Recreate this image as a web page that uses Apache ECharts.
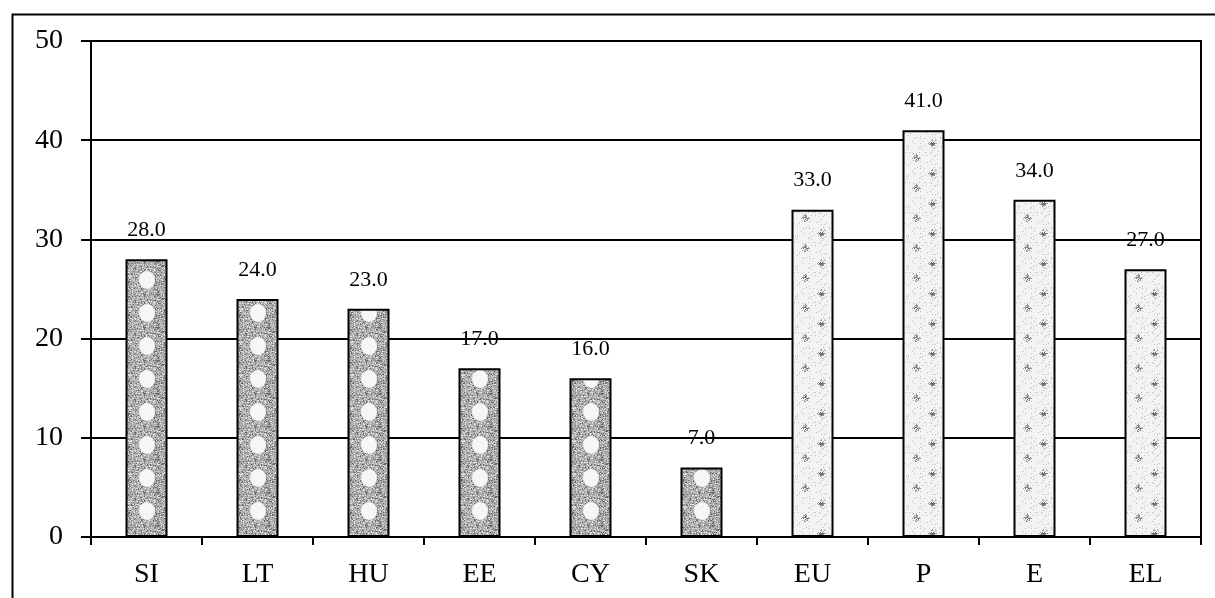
<!DOCTYPE html>
<html>
<head>
<meta charset="utf-8">
<script src="https://cdn.jsdelivr.net/npm/echarts@6/dist/echarts.min.js"></script>
<style>
html,body{margin:0;padding:0;background:#fff;}
#chart{width:1215px;height:598px;}
</style>
</head>
<body>
<div id="chart"></div>
<script>
const categories = ['SI','LT','HU','EE','CY','SK','EU','P','E','EL'];
const values = [28.0, 24.0, 23.0, 17.0, 16.0, 7.0, 33.0, 41.0, 34.0, 27.0];
const yTicks = [0, 10, 20, 30, 40, 50];

function hash(x, y){
  let h = (x * 374761393 + y * 668265263) | 0;
  h = (h ^ (h >>> 13)) * 1274126177 | 0;
  h = h ^ (h >>> 16);
  return (h >>> 0) % 1000;
}
function makeDarkTile(){
  const c = document.createElement('canvas');
  c.width = 42; c.height = 33;
  const g = c.getContext('2d');
  g.fillStyle = '#ababab';
  g.fillRect(0,0,c.width,c.height);
  for(let y=0;y<c.height;y++){
    for(let x=0;x<c.width;x++){
      const h = hash(x, y);
      if(h < 180){ g.fillStyle='#6c6c6c'; g.fillRect(x,y,1,1); }
      else if(h > 800){ g.fillStyle='#dedede'; g.fillRect(x,y,1,1); }
    }
  }
  g.fillStyle = '#f6f6f6';
  g.beginPath(); g.ellipse(21, 16, 8, 9, 0, 0, Math.PI*2); g.fill();
  return c;
}
function makeLightTile(){
  const c = document.createElement('canvas');
  c.width = 42; c.height = 30;
  const g = c.getContext('2d');
  g.fillStyle = '#f3f3f3';
  g.fillRect(0,0,c.width,c.height);
  for(let y=0;y<c.height;y++){
    for(let x=0;x<c.width;x++){
      const h = hash(x + 50, y + 50);
      if(h < 70){ g.fillStyle='#bdbdbd'; g.fillRect(x,y,1,1); }
    }
  }
  const clusters = [[13,8],[29,23]];
  clusters.forEach(([cx,cy], k)=>{
    for(let dy=-4;dy<=4;dy++) for(let dx=-4;dx<=4;dx++){
      const d = Math.abs(dx)+Math.abs(dy);
      if(d<=4 && hash(cx+dx+k*7, cy+dy) < 600){
        g.fillStyle = d <= 2 ? '#707070' : '#9a9a9a';
        g.fillRect(cx+dx,cy+dy,1,1);
      }
    }
  });
  return c;
}
const darkTile = makeDarkTile();
const lightTile = makeLightTile();

const serif = 'Liberation Serif';
const chart = echarts.init(document.getElementById('chart'), null, {renderer:'canvas'});

function buildData(offsets){
  return values.map((v,i)=>({
    value: v,
    itemStyle: {color: {image: i < 6 ? darkTile : lightTile, repeat: 'repeat', x: offsets ? offsets[i] : 0, y: 0}}
  }));
}

chart.setOption({
  animation: false,
  backgroundColor: '#fff',
  graphic: [{
    type: 'rect',
    left: 10, top: 12,
    shape: {width: 1300, height: 700},
    style: {fill: 'none', stroke: '#000', lineWidth: 2},
    silent: true,
    z: 100
  }],
  grid: {
    left: 91, right: 14, top: 41, bottom: 61,
    show: true, borderColor: '#000', borderWidth: 2, backgroundColor: 'transparent'
  },
  xAxis: {
    type: 'category',
    data: categories,
    axisLine: {show: true, lineStyle: {color:'#000', width: 2}},
    axisTick: {show: true, alignWithLabel: false, length: 8, lineStyle: {color:'#000', width: 2}},
    axisLabel: {color:'#000', fontFamily: serif, fontSize: 28, margin: 24},
    splitLine: {show: false}
  },
  yAxis: {
    type: 'value',
    min: yTicks[0], max: yTicks[yTicks.length-1], interval: 10,
    axisLine: {show: true, lineStyle: {color:'#000', width: 2}},
    axisTick: {show: true, inside: false, length: 10, lineStyle: {color:'#000', width: 2}},
    axisLabel: {color:'#000', fontFamily: serif, fontSize: 28, margin: 28},
    splitLine: {show: true, lineStyle: {color:'#000', width: 2}}
  },
  series: [{
    type: 'bar',
    data: buildData(null),
    barWidth: 42,
    itemStyle: {borderColor: '#000', borderWidth: 2},
    label: {
      show: true, position: 'top', distance: 18,
      color: '#000', fontFamily: serif, fontSize: 22,
      formatter: p => p.value.toFixed(1)
    },
    z: 3
  }]
});

// align each bar's texture with the bar itself, using the axis's own pixel scale
const offsets = categories.map((c,i)=>{
  const cx = chart.convertToPixel({xAxisIndex: 0}, i);
  return Math.round(cx - 21);
});
chart.setOption({series: [{data: buildData(offsets)}]});
</script>
</body>
</html>
